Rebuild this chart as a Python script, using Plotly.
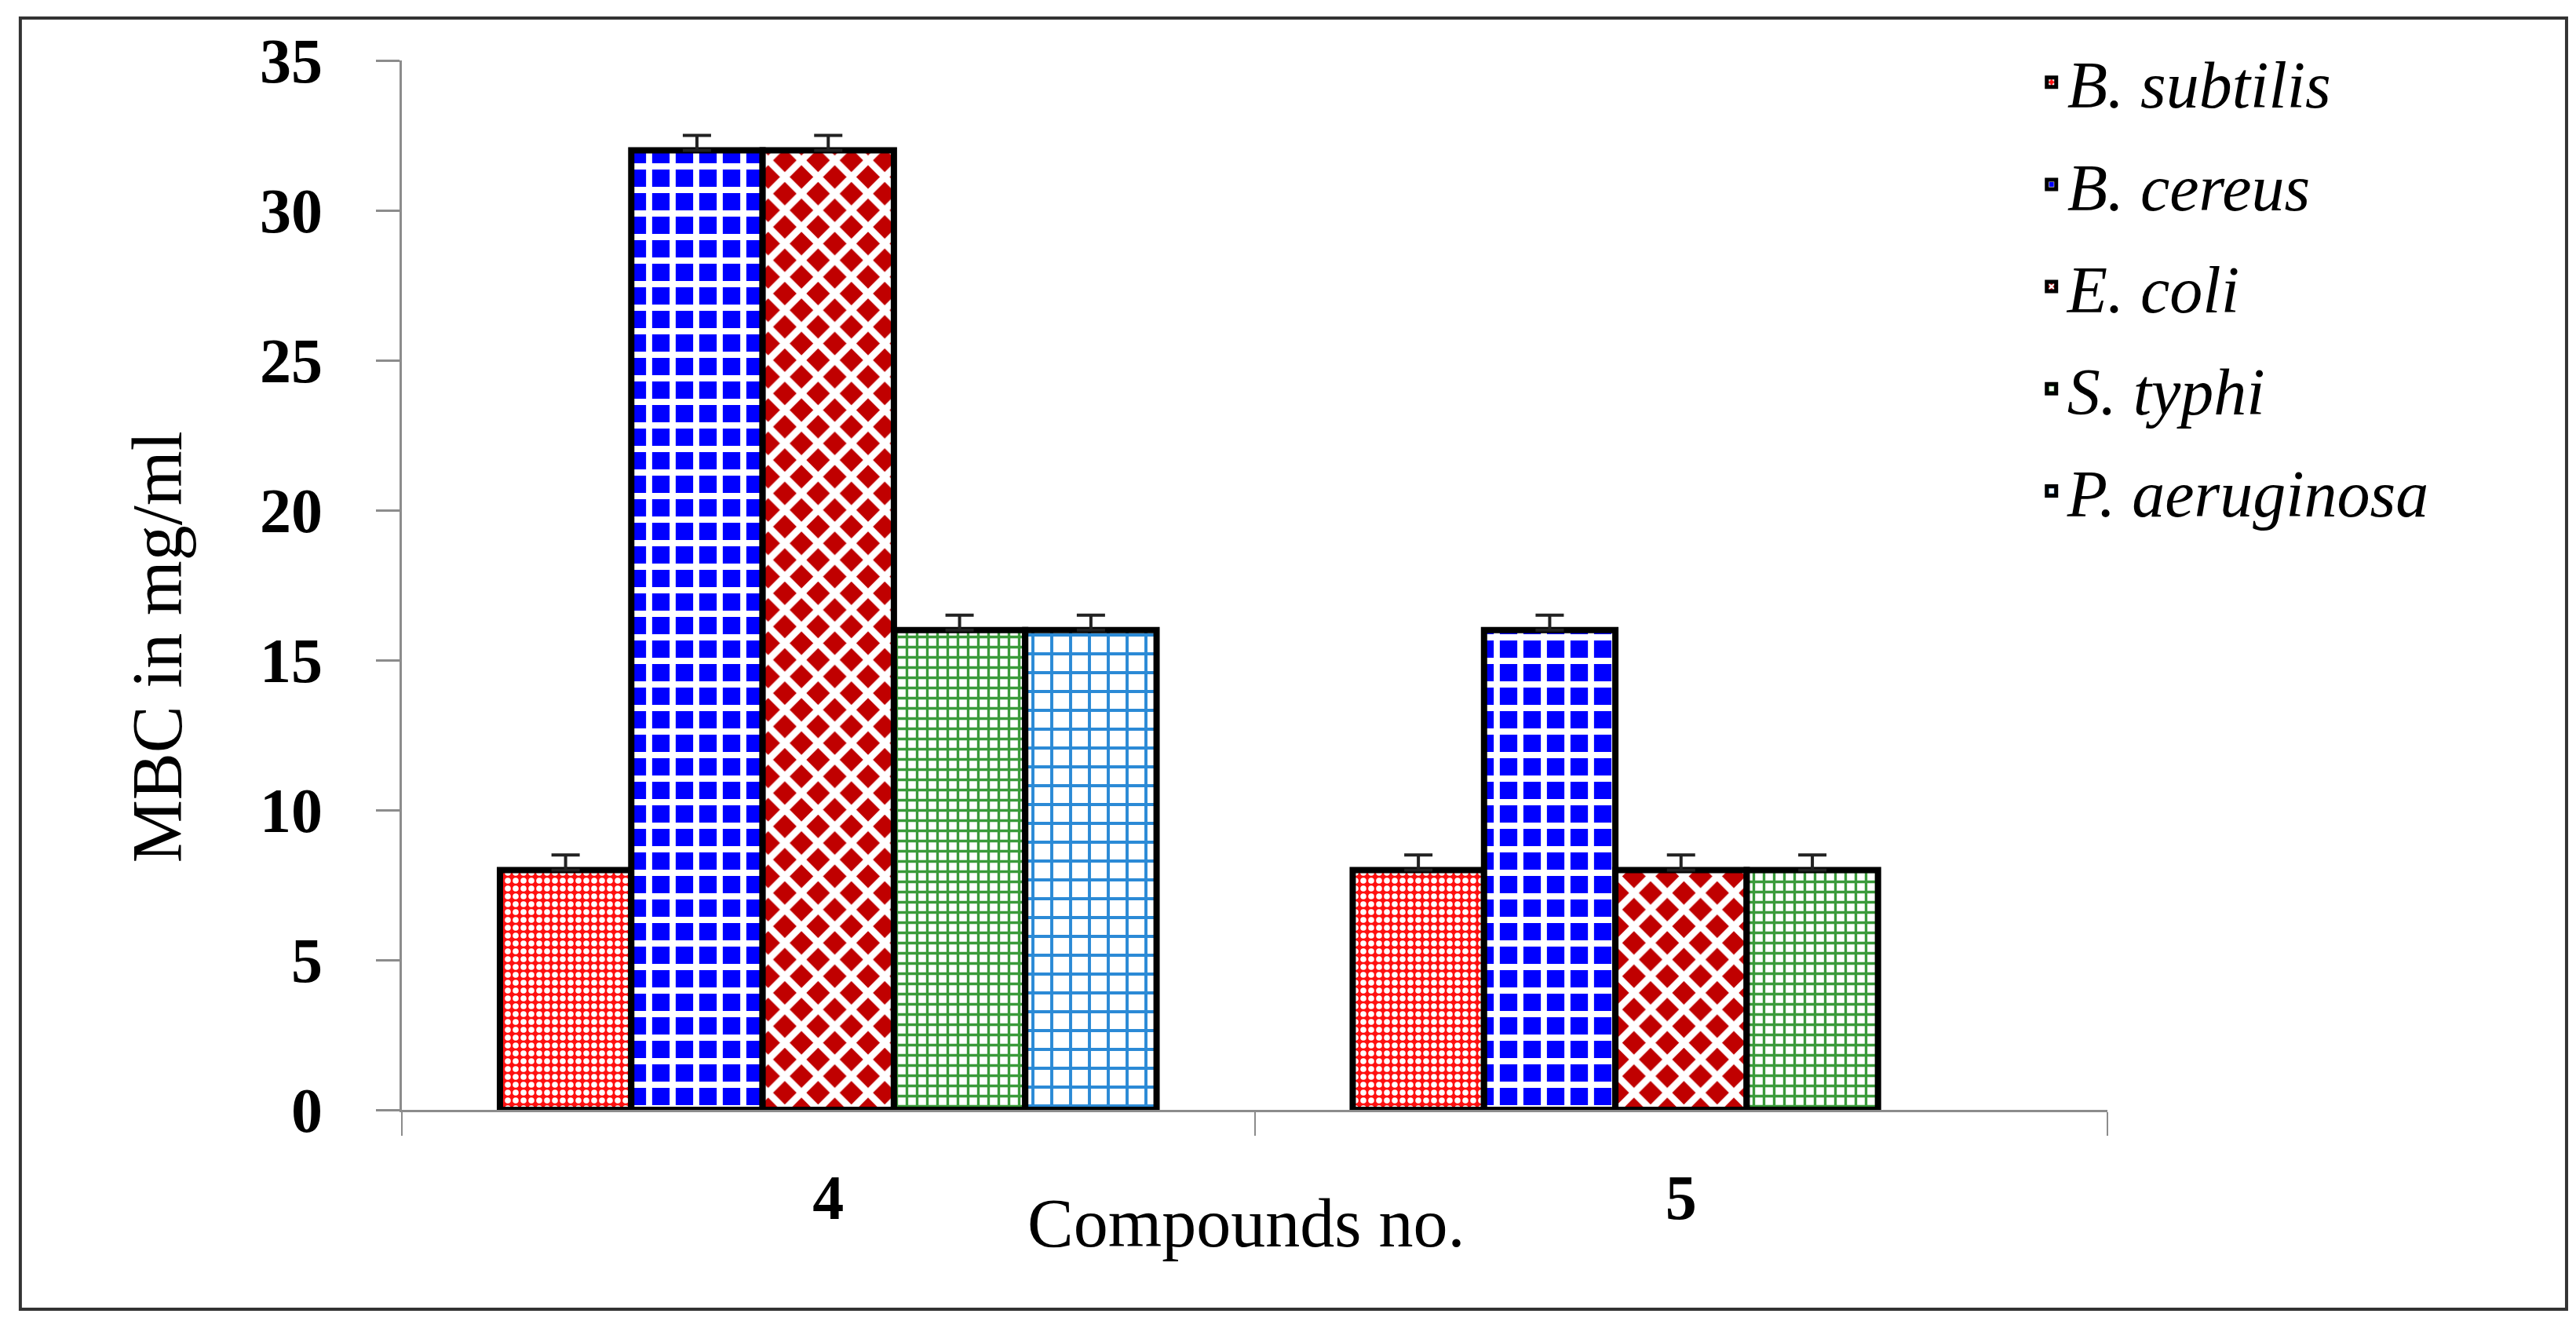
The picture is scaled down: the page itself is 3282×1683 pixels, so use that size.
import plotly.graph_objects as go

compounds = ["4", "5"]
species = ["B. subtilis", "B. cereus", "E. coli", "S. typhi", "P. aeruginosa"]
mbc_values = {
    "B. subtilis": [8, 8],
    "B. cereus": [32, 16],
    "E. coli": [32, 8],
    "S. typhi": [16, 8],
    "P. aeruginosa": [16, None],
}
mbc_errors = {
    "B. subtilis": [0.5, 0.5],
    "B. cereus": [0.5, 0.5],
    "E. coli": [0.5, 0.5],
    "S. typhi": [0.5, 0.5],
    "P. aeruginosa": [0.5, 0],
}
y_ticks = [0, 5, 10, 15, 20, 25, 30, 35]

patterns = {
    "B. subtilis": dict(shape=".", bgcolor="#ff1010", fgcolor="white", size=10, solidity=0.45, fillmode="replace"),
    "B. cereus": dict(shape="+", bgcolor="#0000ff", fgcolor="white", size=30, solidity=0.45, fillmode="replace"),
    "E. coli": dict(shape="x", bgcolor="#c00000", fgcolor="white", size=30, solidity=0.5, fillmode="replace"),
    "S. typhi": dict(shape="+", bgcolor="white", fgcolor="#3a9a3a", size=13, solidity=0.45, fillmode="replace"),
    "P. aeruginosa": dict(shape="+", bgcolor="white", fgcolor="#2b8ad6", size=24, solidity=0.3, fillmode="replace"),
}

fig = go.Figure()
for sp in species:
    fig.add_trace(go.Bar(
        name=sp,
        x=compounds,
        y=mbc_values[sp],
        legendgroup=sp,
        marker=dict(pattern=patterns[sp], line=dict(color="black", width=8)),
        error_y=dict(type="data", array=mbc_errors[sp], arrayminus=[0, 0], symmetric=False,
                     color="#222222", thickness=4, width=18),
    ))

fig.update_layout(
    width=3282, height=1683,
    margin=dict(l=504, r=605, t=69, b=277),
    paper_bgcolor="white", plot_bgcolor="white",
    barmode="group", bargap=0.23, bargroupgap=0,
    font=dict(family="Liberation Serif", color="black"),
    showlegend=True,
    legend=dict(x=0.958, y=1.025, xanchor="left", yanchor="top",
                font=dict(family="Liberation Serif", size=84, style="italic"),
                tracegroupgap=18, bgcolor="rgba(0,0,0,0)"),
    xaxis=dict(type="category", showline=True, linecolor="#8c8c8c", linewidth=3,
               ticks="outside", tickson="boundaries", ticklen=30, tickwidth=2, tickcolor="#8c8c8c",
               tickfont=dict(family="Liberation Serif", size=80, weight="bold"),
               ticklabelstandoff=40, showgrid=False, zeroline=False),
    yaxis=dict(range=[0, 35], tickvals=y_ticks, showline=True, linecolor="#8c8c8c", linewidth=3,
               ticks="outside", ticklen=30, tickwidth=3, tickcolor="#8c8c8c",
               tickfont=dict(family="Liberation Serif", size=80, weight="bold"),
               ticklabelstandoff=52, showgrid=False, zeroline=False),
    annotations=[
        dict(text="Compounds no.", xref="paper", yref="paper", x=0.495, y=-0.108,
             xanchor="center", yanchor="middle", showarrow=False,
             font=dict(family="Liberation Serif", size=88)),
        dict(text="MBC in mg/ml", xref="paper", yref="paper", x=-0.1436, y=0.441,
             xanchor="center", yanchor="middle", showarrow=False, textangle=-90,
             font=dict(family="Liberation Serif", size=90)),
    ],
    shapes=[
        dict(type="rect", xref="paper", yref="paper", x0=-0.2237, x1=1.2692, y0=-0.19, y1=1.0404,
             line=dict(color="#333333", width=4), fillcolor="rgba(0,0,0,0)", layer="below"),
    ],
)

fig.write_html("out.html")
